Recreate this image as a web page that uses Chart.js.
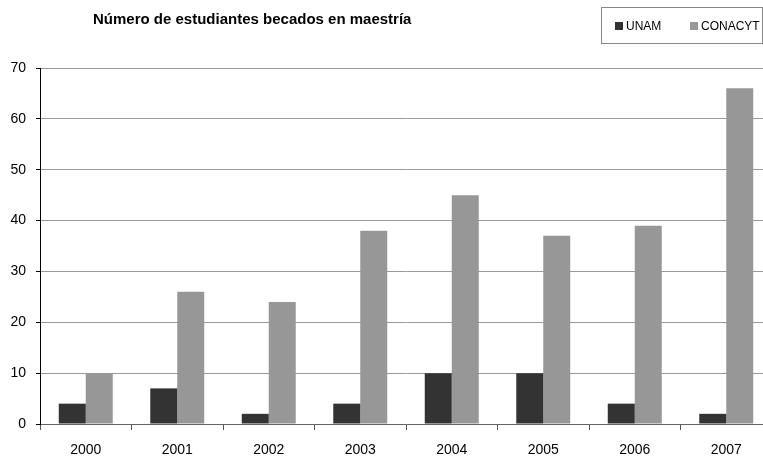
<!DOCTYPE html>
<html>
<head>
<meta charset="utf-8">
<script src="https://cdn.jsdelivr.net/npm/chart.js@4"></script>
<style>
  body { margin: 0; overflow: hidden; background: #fff; }
  #wrap { width: 772px; height: 456px; }
</style>
</head>
<body>
<div id="wrap"><canvas id="becasChart" width="772" height="456"></canvas></div>
<script>
// Datos
const years = ['2000', '2001', '2002', '2003', '2004', '2005', '2006', '2007']
const unam = [4, 7, 2, 4, 10, 10, 4, 2]
const conacyt = [10, 26, 24, 38, 45, 37, 39, 66]
const chartTitle = 'Número de estudiantes becados en maestría'

const fontFamily = "'Liberation Sans', Arial, sans-serif"

// Titulo y leyenda con recuadro
const headerPlugin = {
  id: 'header',
  afterDraw(chart) {
    const ctx = chart.ctx
    ctx.save()
    ctx.fillStyle = '#000'
    ctx.font = 'bold 15px ' + fontFamily
    ctx.textBaseline = 'middle'
    ctx.textAlign = 'left'
    ctx.fillText(chartTitle, 93, 20)

    ctx.strokeStyle = '#888'
    ctx.lineWidth = 1
    ctx.strokeRect(601.5, 7.5, 161, 36)

    ctx.font = '12px ' + fontFamily
    let x = 615
    chart.data.datasets.forEach((ds, i) => {
      ctx.fillStyle = ds.backgroundColor
      ctx.fillRect(x, 22, 8, 8)
      ctx.fillStyle = '#000'
      ctx.fillText(ds.label, x + 11, 26.5)
      x += 75
    })
    ctx.restore()
  },
}

const ctx = document.getElementById('becasChart').getContext('2d')

new Chart(ctx, {
  type: 'bar',
  data: {
    labels: years,
    datasets: [
      { label: 'UNAM', data: unam, backgroundColor: '#333333' },
      { label: 'CONACYT', data: conacyt, backgroundColor: '#979797' },
    ],
  },
  options: {
    responsive: false,
    animation: false,
    layout: { padding: { top: 68, right: 0, left: 0, bottom: 0 } },
    datasets: { bar: { categoryPercentage: 0.59, barPercentage: 1.0 } },
    plugins: {
      legend: { display: false },
      title: { display: false },
      tooltip: { enabled: false },
    },
    scales: {
      x: {
        afterFit(scale) { scale.height = 32 },
        grid: {
          drawOnChartArea: false,
          drawTicks: true,
          tickLength: 6,
          color: '#555',
        },
        border: { color: '#666', width: 1 },
        ticks: {
          color: '#000',
          font: { family: fontFamily, size: 14 },
          padding: 12,
        },
      },
      y: {
        min: 0,
        max: 70,
        afterFit(scale) { scale.width = 40 },
        grid: {
          color: '#9a9a9a',
          tickLength: 4,
          tickColor: '#000',
        },
        border: { color: '#000', width: 1 },
        ticks: {
          stepSize: 10,
          color: '#000',
          font: { family: fontFamily, size: 14 },
          padding: 10,
        },
      },
    },
  },
  plugins: [headerPlugin],
})
</script>
</body>
</html>
